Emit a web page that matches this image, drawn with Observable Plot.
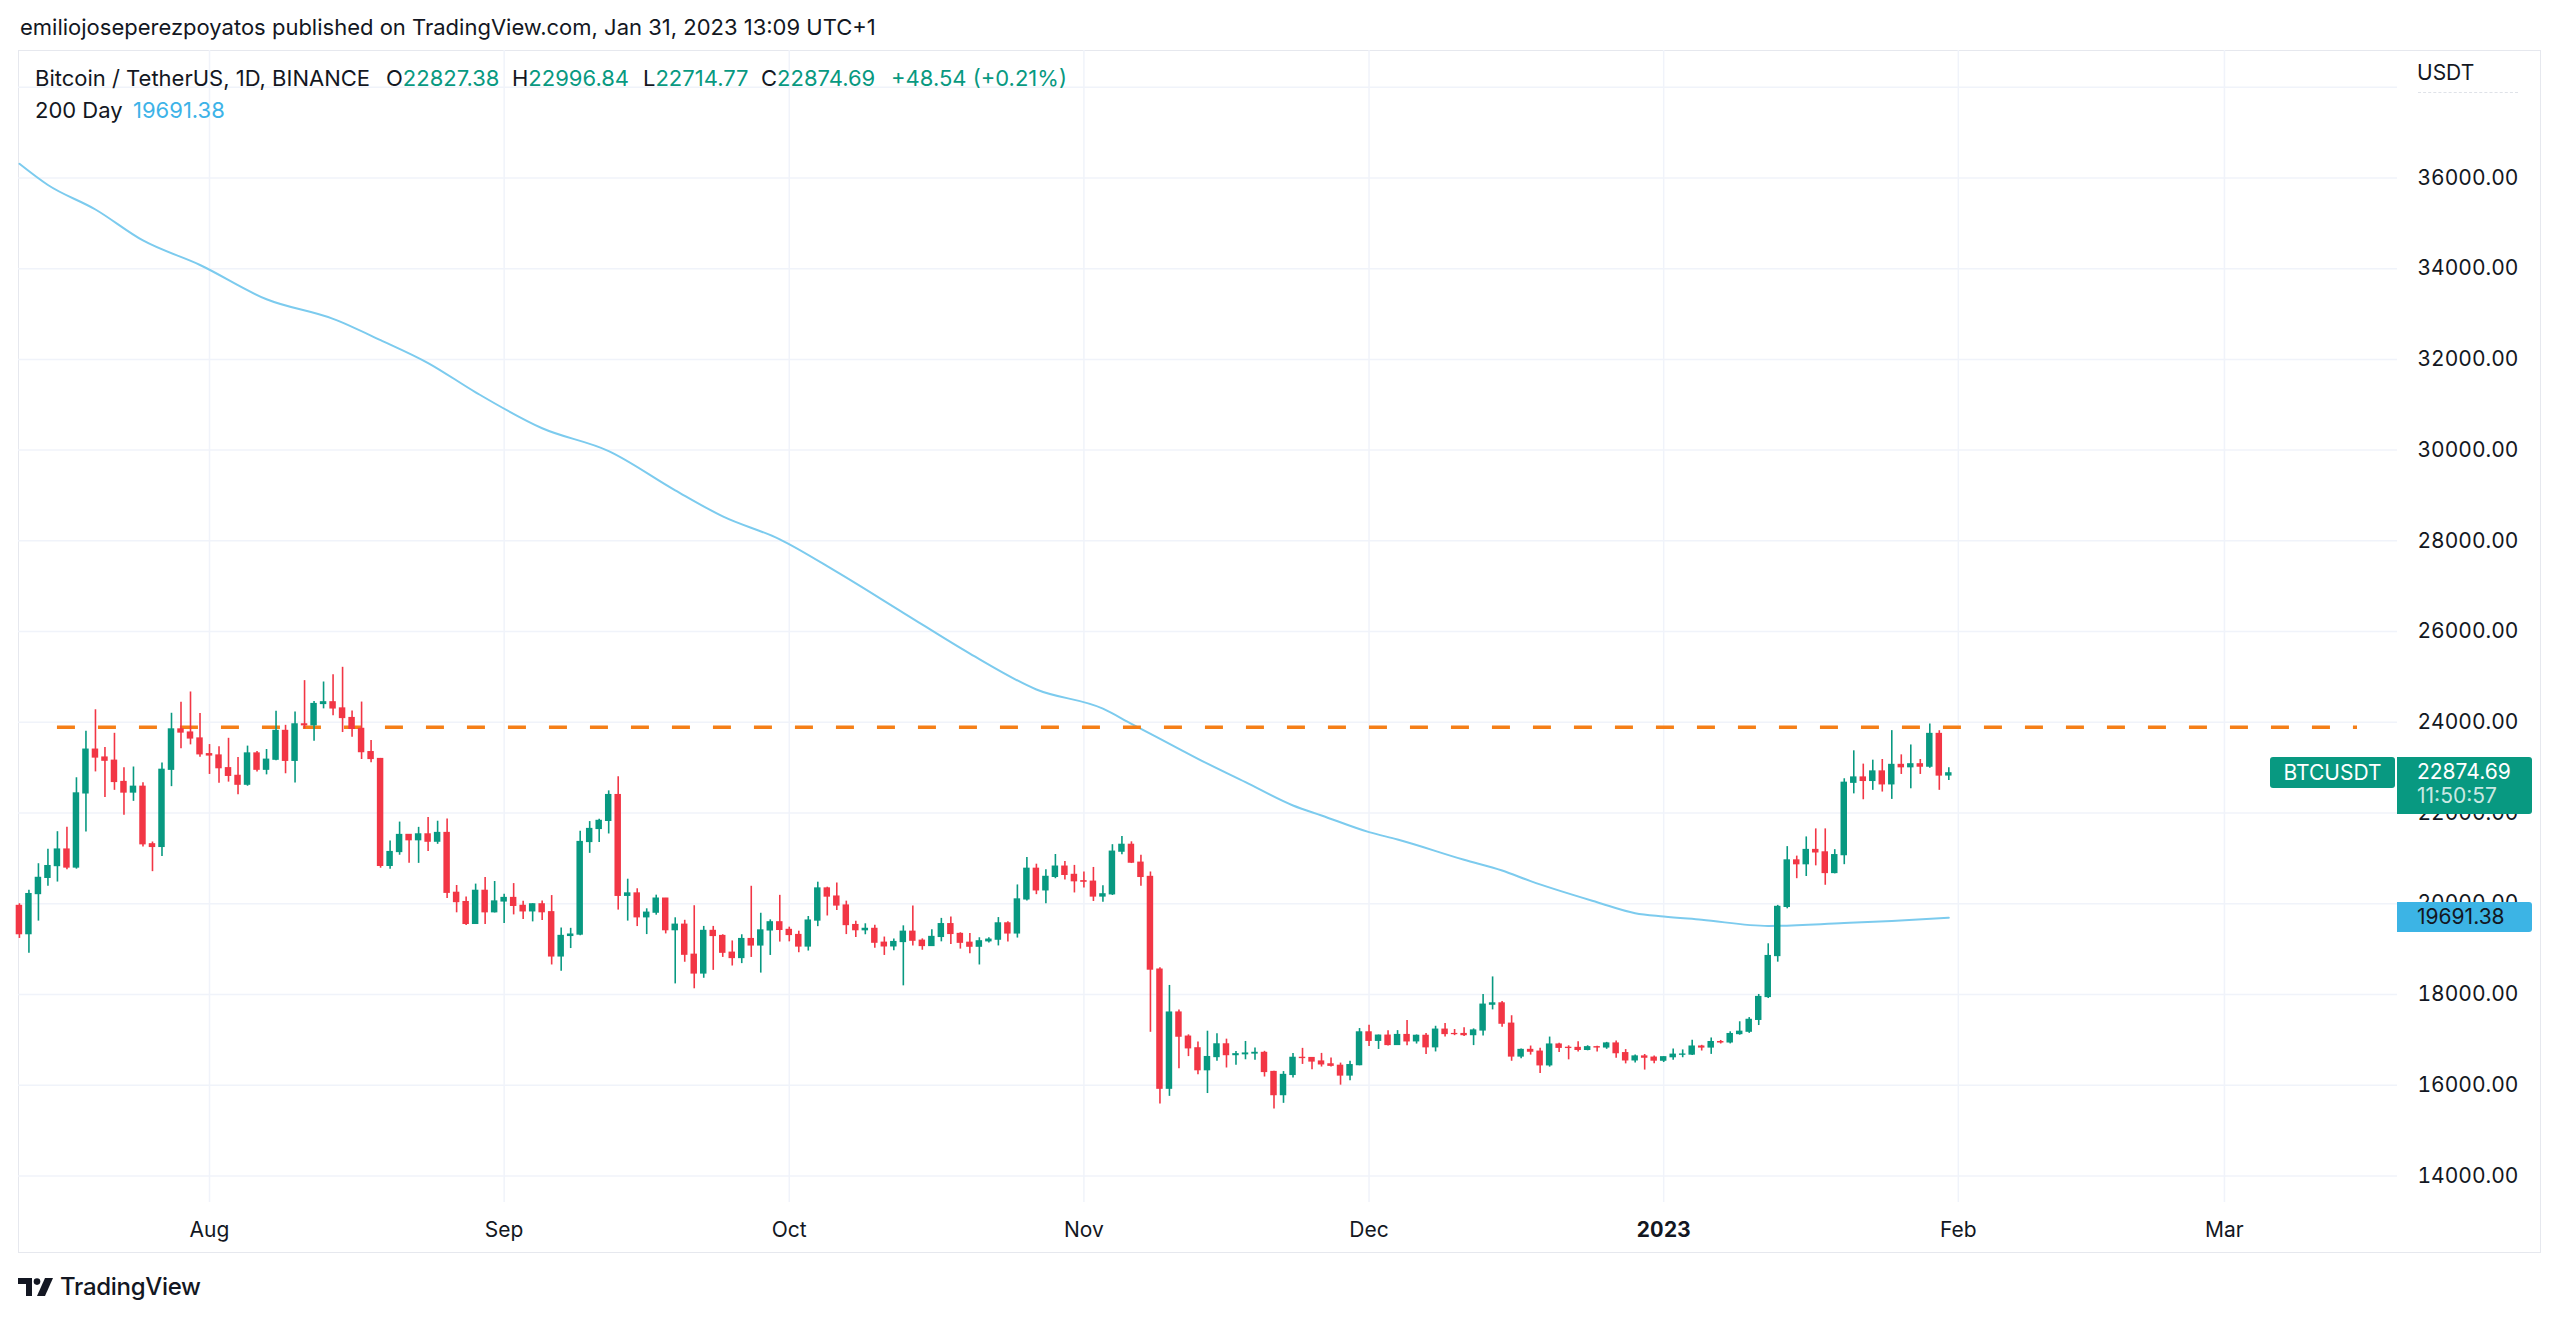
<!DOCTYPE html>
<html>
<head>
<meta charset="utf-8">
<script src="https://cdn.jsdelivr.net/npm/d3@7"></script>
<script src="https://cdn.jsdelivr.net/npm/@observablehq/plot@0.6"></script>
<style>
html,body{margin:0;padding:0;background:#fff;}
body{width:2560px;height:1319px;position:relative;overflow:hidden;font-family:Inter,"Noto Sans",sans-serif;color:#131722;}
.abs{position:absolute;white-space:nowrap;font-size:22px;line-height:24px;}
.g{color:#089981;}
#frame{position:absolute;left:18px;top:50px;width:2523px;height:1203px;border:1px solid #e6e8ee;box-sizing:border-box;}
#plot{position:absolute;left:0;top:0;}
.box{position:absolute;box-sizing:border-box;font-size:21px;white-space:nowrap;}
</style>
</head>
<body>
<div id="frame"></div>
<div id="plot"></div>
<script>
// ---------- DATA ----------
const startDate = "2022-07-12"; // first daily candle, one candle per day
const open = [
 19952,19329,20213,20570,20830,21195,20798,22432,23397,23223,23153,22684,22451,22579,21311,21252,22953,23843,23774,23643,
 23297,23268,22988,22819,22624,23313,22954,23175,23810,23150,23954,23934,24403,24441,24305,24094,23855,23342,23191,20834,21140,21517,21400,21529,21368,21560,20241,20037,19555,20285,19812,
 20050,20127,19953,19832,19987,19813,18838,19290,19320,21361,21648,21826,22396,20174,20227,19701,19803,20113,19417,19538,18876,18462,19401,19289,18921,18803,19222,19080,19412,19591,
 19423,19311,19057,19629,20337,20158,19961,19530,19416,19446,19141,19060,19156,19383,19185,19068,19268,19550,19334,19140,19053,19172,19208,19567,19345,20095,20771,20295,20592,20818,20636,
 20496,20486,20159,20208,21148,21299,20905,20591,18548,15922,17602,17070,16813,16330,16620,16900,16663,16682,16698,16712,16291,15781,16226,16603,16599,16522,16459,16428,16213,16442,
 17164,16978,17092,16886,17106,16967,17088,16836,17224,17128,17128,17104,17206,17775,17803,17356,16632,16777,16739,16438,16896,16824,16821,16778,16837,16832,16919,16706,16547,16633,16607,
 16541,16617,16672,16675,16851,16831,16950,16943,17127,17179,17440,17944,18847,19930,20955,20871,21185,21132,20677,21071,22667,22783,22707,22916,22632,23060,23009,23074,23022,23743,22827.38
];
const high = [
 20000,20300,20882,21200,21588,21684,22777,23800,24276,23442,23757,22998,23014,22666,21361,23100,24199,24442,24668,24194,
 23509,23459,23647,23223,23475,23354,23400,24245,23933,24226,24918,24456,24888,25047,25212,24247,24446,23600,23203,21382,21800,21522,21684,21900,21819,21867,20402,20149,20433,20580,20490,
 20208,20444,20055,20000,20058,20180,19464,19458,21600,21811,21860,22488,22799,20541,20330,19888,20189,20117,19690,19635,19956,19500,19500,19316,19180,19316,20385,19790,19645,20185,
 19484,19395,19719,20475,20365,20456,20057,19616,19558,19525,19266,19225,19513,19951,19226,19424,19677,19706,19360,19346,19250,19248,19695,19601,20415,21020,20872,20750,21085,20932,20845,
 20700,20800,20394,21302,21480,21365,21069,20700,18587,18199,17655,17110,16954,17190,17134,17015,16744,16964,16820,16747,16310,16300,16700,16812,16608,16701,16600,16487,16530,17249,
 17320,17105,17200,17203,17424,17107,17142,17299,17360,17227,17267,17241,18000,18387,17845,17531,16800,16863,16815,17061,16925,16868,16955,16869,16859,16944,16972,16785,16664,16677,16644,
 16628,16799,16778,16991,16879,17041,16986,17177,17398,17490,18000,19117,19964,21259,21050,21473,21650,21650,21192,22755,23371,23078,23165,23180,23816,23282,23500,23180,23960,23814,22996.84
];
const low = [
 19235,18910,19617,20383,20478,20751,20762,21582,22906,22341,22500,21951,22257,21250,20707,21040,22581,23414,23502,23227,
 22850,22655,22681,22400,22590,22906,22841,23154,22865,22664,23852,23583,24296,24145,23774,23671,23180,23108,20783,20762,21069,20890,20890,21153,21310,20114,19800,19520,19550,19540,19797,
 19565,19754,19655,19600,19633,18650,18510,19012,19292,21111,21350,21538,19860,19617,19497,19320,19748,19335,18233,18710,18125,18357,18531,18817,18627,18680,18816,18471,18860,19155,
 19160,18920,18957,19495,19730,19853,19320,19255,19316,19020,18860,18965,18190,19070,18975,19063,19160,19099,19000,18900,18650,19132,19070,19157,19243,20063,20200,20000,20552,20523,20238,
 20348,20050,20031,20182,21080,20886,20384,17166,15588,15754,16361,16630,16229,15816,16527,16379,16437,16560,16549,16180,15476,15600,16160,16458,16342,16400,16400,16001,16100,16428,
 16855,16788,16863,16878,16868,16907,16678,16733,17060,17092,17072,16873,17084,17660,17275,16527,16585,16663,16256,16398,16723,16559,16731,16758,16733,16791,16592,16470,16488,16333,16470,
 16499,16548,16605,16652,16753,16679,16908,16910,17102,17142,17315,17910,18712,19888,20552,20600,20835,20407,20659,20861,22422,22292,22500,22462,22300,22850,22534,22850,22985,22500,22714.77
];
const close = [
 19329,20213,20570,20830,21195,20798,22432,23397,23223,23153,22684,22451,22579,21311,21252,22953,23843,23774,23643,23294,
 23268,22988,22819,22624,23313,22954,23175,23810,23150,23954,23934,24403,24441,24305,24094,23854,23342,23191,20834,21140,21516,21400,21529,21368,21560,20241,20037,19555,20285,19812,20050,
 20127,19953,19832,19987,19813,18838,19290,19320,21361,21648,21826,22396,20174,20227,19701,19803,20113,19417,19538,18876,18462,19401,19289,18920,18803,19222,19080,19412,19591,19423,
 19311,19057,19629,20337,20158,19961,19530,19417,19446,19141,19060,19156,19383,19185,19068,19268,19550,19334,19140,19053,19172,19208,19567,19345,20095,20771,20295,20592,20818,20636,20496,
 20486,20159,20208,21148,21299,20906,20591,18548,15922,17601,17070,16813,16330,16620,16900,16663,16682,16698,16712,16291,15781,16226,16603,16599,16522,16459,16428,16213,16442,17164,
 16978,17092,16886,17106,16966,17088,16836,17224,17128,17127,17104,17206,17775,17803,17356,16632,16777,16739,16438,16896,16824,16821,16778,16837,16832,16919,16706,16547,16633,16607,16542,
 16616,16672,16675,16851,16831,16950,16943,17127,17178,17440,17944,18847,19930,20955,20871,21185,21132,20677,21071,22667,22783,22707,22916,22632,23060,23009,23074,23022,23743,22826.15,22874.69
];
// 200-day moving average at sample dates
const maDates = ["2022-07-12","2022-07-15","2022-07-20","2022-07-25","2022-07-31","2022-08-07","2022-08-14","2022-08-19","2022-08-24","2022-08-29",
 "2022-09-05","2022-09-12","2022-09-19","2022-09-24","2022-09-30","2022-10-06","2022-10-13","2022-10-20","2022-10-27","2022-11-03",
 "2022-11-06","2022-11-11","2022-11-13","2022-11-18","2022-11-23","2022-11-26","2022-12-01","2022-12-04","2022-12-11","2022-12-15",
 "2022-12-18","2022-12-25","2022-12-29","2023-01-01","2023-01-05","2023-01-12","2023-01-20","2023-01-25","2023-01-31"];
const maValues = [36312,35844,35304,34621,34081,33325,32893,32425,31920,31274,
 30481,29978,29114,28539,28034,27315,26414,25514,24723,24300,
 23967,23416,23195,22680,22166,21946,21578,21416,20969,20733,
 20498,20034,19792,19719,19646,19510,19575,19620,19691.38];
// horizontal resistance line (dashed)
const levelValue = 23890;
const levelStart = "2022-07-16";
const levelEnd = "2023-03-15";
// axes
const monthTicks = ["2022-08-01","2022-09-01","2022-10-01","2022-11-01","2022-12-01","2023-01-01","2023-02-01","2023-03-01"];
const monthLabels = ["Aug","Sep","Oct","Nov","Dec","2023","Feb","Mar"];
const priceGrid = [14000,16000,18000,20000,22000,24000,26000,28000,30000,32000,34000,36000,38000];
const priceLabels = [14000,16000,18000,20000,22000,24000,26000,28000,30000,32000,34000,36000];
const xDomain = ["2022-07-11T21:40Z","2023-03-19T05:00Z"];
const yDomain = [13414, 38809];
const symbol = "BTCUSDT";
const lastTimer = "11:50:57";

// ---------- BUILD ----------
[open,high,low].forEach(a=>{ if(a.length!==close.length) throw new Error("length mismatch "+a.length+" vs "+close.length); });
const UP = "#089981", DOWN = "#F23645";
const t0 = new Date(startDate + "T00:00Z");
const candles = close.map((c,i)=>({date: d3.utcDay.offset(t0,i), open: open[i], high: high[i], low: low[i], close: c}));
const ma = maDates.map((d,i)=>({date: new Date(d+"T00:00Z"), value: maValues[i]}));
const months = monthTicks.map(d=>new Date(d+"T00:00Z"));
const labelOf = new Map(months.map((d,i)=>[+d, monthLabels[i]]));
const HALF = 0.34*864e5;
const col = d => d.close >= d.open ? UP : DOWN;

const W = 2560, H = 1262;
const chart = Plot.plot({
  width: W, height: H,
  marginLeft: 18, marginRight: 163, marginTop: 50, marginBottom: H - 1202,
  x: {type: "utc", domain: xDomain.map(d=>new Date(d))},
  y: {domain: yDomain},
  style: {fontFamily: "Inter, 'Noto Sans', sans-serif", fontSize: "21px", color: "#131722", background: "transparent", overflow: "visible"},
  marks: [
    Plot.gridY(priceGrid, {stroke: "#f0f3fa", strokeOpacity: 1, strokeWidth: 1.5}),
    Plot.gridX(months, {stroke: "#f0f3fa", strokeOpacity: 1, strokeWidth: 1.5}),
    Plot.axisY(priceLabels, {anchor: "right", tickSize: 0, tickPadding: 20, tickFormat: d=>d.toFixed(2), fill: "#131722"}),
    Plot.axisX(months, {anchor: "bottom", tickSize: 0, tickPadding: 20, tickFormat: d=>labelOf.get(+d), fill: "#131722"}),
    Plot.line(ma, {x: "date", y: "value", stroke: "#7ccbee", strokeWidth: 2, curve: "monotone-x"}),
    Plot.ruleY([levelValue], {y: d=>d, x1: new Date(levelStart+"T00:00Z"), x2: new Date(levelEnd+"T00:00Z"), stroke: "#f57f17", strokeWidth: 3.4, strokeDasharray: "18 23"}),
    Plot.ruleX(candles, {x: "date", y1: "low", y2: "high", stroke: col, strokeWidth: 1.6}),
    Plot.rect(candles, {x1: d=>new Date(+d.date - HALF), x2: d=>new Date(+d.date + HALF), y1: "open", y2: "close", fill: col, insetTop: -0.6, insetBottom: -0.6})
  ]
});
document.getElementById("plot").appendChild(chart);
d3.select(chart).selectAll("text").filter(function(){ return this.textContent === "2023"; }).attr("font-weight", 700);

const ys = chart.scale("y");
const yLast = ys.apply(close[close.length-1]);
const yMA = ys.apply(maValues[maValues.length-1]);

function add(html){ document.body.insertAdjacentHTML("beforeend", html); }
// header + legend
add(`<div class="abs" style="left:20px;top:15px;">emiliojoseperezpoyatos published on TradingView.com, Jan 31, 2023 13:09 UTC+1</div>`);
add(`<div class="abs" style="left:35px;top:66px;">Bitcoin / TetherUS, 1D, BINANCE</div>`);
const legendItems = [["O",open[open.length-1],386],["H",high[high.length-1],512],["L",low[low.length-1],643],["C",close[close.length-1],761]];
legendItems.forEach(([k,v,x])=> add(`<div class="abs" style="left:${x}px;top:66px;">${k}<span class="g">${v.toFixed(2)}</span></div>`));
const chg = close[close.length-1] - close[close.length-2];
add(`<div class="abs g" style="left:891px;top:66px;">+${chg.toFixed(2)} (+${(chg/close[close.length-2]*100).toFixed(2)}%)</div>`);
add(`<div class="abs" style="left:35px;top:98px;">200 Day</div>`);
add(`<div class="abs" style="left:133px;top:98px;color:#3db3e8;">${maValues[maValues.length-1].toFixed(2)}</div>`);
// price scale header
add(`<div class="abs" style="left:2417px;top:61px;font-size:21px;">USDT</div>`);
add(`<div style="position:absolute;left:2418px;top:92px;width:100px;border-top:1px dashed #dfe2e8;"></div>`);
// last price boxes
add(`<div class="box" style="left:2270px;top:${yLast-15.5}px;width:125px;height:31px;background:${UP};color:#fff;border-radius:3px;text-align:center;line-height:31px;">${symbol}</div>`);
add(`<div class="box" style="left:2397px;top:${yLast-15.5}px;width:135px;height:57px;background:${UP};color:#fff;border-radius:0 3px 3px 0;padding-left:20px;line-height:24px;padding-top:3px;">${close[close.length-1].toFixed(2)}<br><span style="color:rgba(255,255,255,0.8)">${lastTimer}</span></div>`);
add(`<div class="box" style="left:2397px;top:${yMA-15.25}px;width:135px;height:30.5px;background:#3cb4e5;color:#131722;border-radius:0 3px 3px 0;padding-left:20px;line-height:30.5px;">${maValues[maValues.length-1].toFixed(2)}</div>`);
// footer logo
add(`<div style="position:absolute;left:18px;top:1277px;height:20px;display:flex;align-items:center;gap:6px;">
<svg width="36" height="18" viewBox="0 0 36 18"><path d="M0 0h14v18H8V6H0z" fill="#131722"/><circle cx="19" cy="3.6" r="3.3" fill="#131722"/><path d="M27 0h8l-8 18h-8z" fill="#131722"/></svg>
<span style="font-size:24px;font-weight:500;letter-spacing:-0.3px;color:#131722;line-height:20px;">TradingView</span></div>`);
</script>
</body>
</html>
